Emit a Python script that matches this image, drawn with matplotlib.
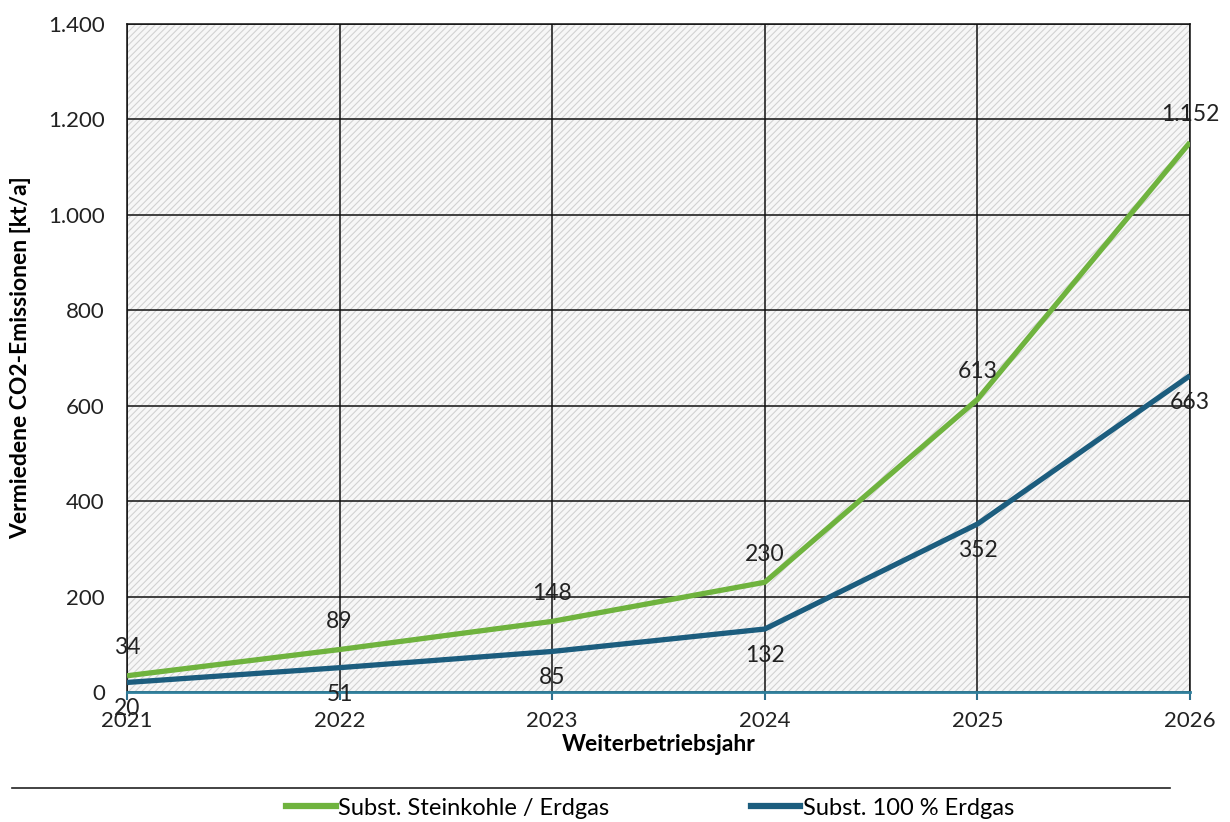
import matplotlib
matplotlib.use("Agg")
import matplotlib.pyplot as plt
from matplotlib.patches import Rectangle
from matplotlib.lines import Line2D
from matplotlib.ticker import FuncFormatter

years = [2021, 2022, 2023, 2024, 2025, 2026]
steinkohle = [34, 89, 148, 230, 613, 1152]
erdgas = [20, 51, 85, 132, 352, 663]
series_names = ["Subst. Steinkohle / Erdgas", "Subst. 100 % Erdgas"]
y_ticks = [0, 200, 400, 600, 800, 1000, 1200, 1400]

GREEN = "#6fb33e"
BLUE = "#1c5d7e"

plt.rcParams['font.family'] = ['Lato', 'DejaVu Sans']
plt.rcParams['hatch.linewidth'] = 0.8
plt.rcParams['hatch.color'] = '#d2d2d2'

fig = plt.figure(figsize=(12.3, 8.22), dpi=100)
ax = fig.add_axes([127/1230, 1-692/822, (1190-127)/1230, (692-24)/822])

ax.add_patch(Rectangle((0, 0), 1, 1, transform=ax.transAxes, facecolor='#f7f7f7',
                       edgecolor='#d2d2d2', hatch='/////', lw=0, zorder=0))

ax.plot(years, steinkohle, color=GREEN, lw=3.8, zorder=3, solid_capstyle='butt')
ax.plot(years, erdgas, color=BLUE, lw=3.8, zorder=3, solid_capstyle='butt')

fmt = lambda v: f"{v:,.0f}".replace(",", ".")
for x, v in zip(years, steinkohle):
    ax.annotate(fmt(v), (x, v), xytext=(0, 20), textcoords='offset points',
                ha='center', va='center', fontsize=16.5, color='#222222', zorder=4,
                annotation_clip=False)
for x, v in zip(years, erdgas):
    ax.annotate(fmt(v), (x, v), xytext=(0, -19), textcoords='offset points',
                ha='center', va='center', fontsize=16.5, color='#222222', zorder=4,
                annotation_clip=False)

ax.set_xlim(2021, 2026)
ax.set_ylim(0, 1400)
ax.set_xticks(years)
ax.set_yticks(y_ticks)
ax.yaxis.set_major_formatter(FuncFormatter(lambda v, p: fmt(v)))
ax.grid(True, color='#111111', lw=1.1)
ax.set_axisbelow(True)

for s in ['left', 'top', 'right']:
    ax.spines[s].set_color('#111111')
    ax.spines[s].set_linewidth(1.1)
ax.spines['bottom'].set_color('#2f7f9c')
ax.spines['bottom'].set_linewidth(2.0)

ax.tick_params(axis='y', length=0, pad=16, labelsize=16, labelcolor='#222222')
ax.tick_params(axis='x', direction='out', length=6, width=1.5, color='#2f6f8c',
               pad=8, labelsize=16, labelcolor='#222222')

ax.set_ylabel("Vermiedene CO2-Emissionen [kt/a]", fontsize=16.5, fontweight='bold', labelpad=12)
ax.set_xlabel("Weiterbetriebsjahr", fontsize=16.5, fontweight='bold', labelpad=2)

fig.add_artist(Line2D([12/1230, 1170/1230], [1-788/822, 1-788/822], color='#222222', lw=1.2))

handles = [Line2D([], [], color=GREEN, lw=4.5), Line2D([], [], color=BLUE, lw=4.5)]
fig.legend(handles, series_names, loc='center', bbox_to_anchor=(650/1230, 1-808/822),
           ncol=2, frameon=False, fontsize=17, handlelength=2.1, handletextpad=0.1,
           columnspacing=6.0)

fig.savefig("out.png", dpi=100, facecolor='white')
